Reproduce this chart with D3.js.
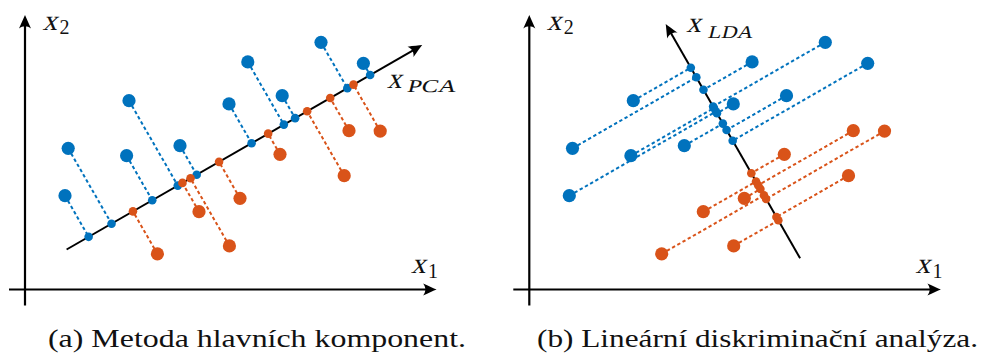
<!DOCTYPE html>
<html>
<head>
<meta charset="utf-8">
<script src="https://cdn.jsdelivr.net/npm/d3@7"></script>
<style>
  html, body { margin: 0; padding: 0; background: #fff; }
  svg { display: block; }
  text { font-family: "Liberation Serif", "DejaVu Serif", serif; fill: #111; }
</style>
</head>
<body>
<svg id="chart" width="983" height="356"></svg>
<script>
// Two classes of 2-D samples (feature space x1, x2)
const blueX1   = [1.0, 1.08, 2.54, 2.6, 3.875, 5.1, 5.57, 6.43, 7.4, 8.46];
const blueX2   = [2.345, 3.53, 3.345, 4.72, 3.595, 4.64, 5.69, 4.845, 6.18, 5.655];
const orangeX1 = [3.31, 4.35, 5.11, 5.375, 6.375, 7.98, 8.1, 8.88];
const orangeX2 = [0.89, 1.945, 1.09, 2.28, 3.38, 2.845, 3.97, 3.96];

// Projection axes: [start, arrow tip] in data units
const pcaAxis = [[1.04, 1.0], [9.93, 6.11]];
const ldaAxis = [[6.77, 0.78], [3.41, 6.64]];

// Extent of the coordinate axes
const axisX1 = [-0.4, 10.29];
const axisX2 = [-0.4, 6.86];

const captions = ["(a) Metoda hlavních komponent.", "(b) Lineární diskriminační analýza."];
const axisNames = ["PCA", "LDA"];

const BLUE = "#0072BD", ORANGE = "#D95319";

const svg = d3.select("#chart");

// Equal units on both axes so that orthogonal projections look orthogonal
const x = d3.scaleLinear().domain([0, 10]).range([0, 400]);
const y = d3.scaleLinear().domain([0, 7]).range([289.5, 9.5]);

const blue = blueX1.map((v, i) => [v, blueX2[i]]);
const orange = orangeX1.map((v, i) => [v, orangeX2[i]]);

// Orthogonal projection of point p onto the line through a,b
function project(p, a, b) {
  const dx = b[0] - a[0], dy = b[1] - a[1];
  const len2 = dx * dx + dy * dy;
  const t = ((p[0] - a[0]) * dx + (p[1] - a[1]) * dy) / len2;
  return [a[0] + t * dx, a[1] + t * dy];
}

const arrowPath = "M0,0 C-3,-1.2 -8,-3.6 -13.5,-6 C-10.5,-2.2 -10.5,2.2 -13.5,6 C-8,3.6 -3,1.2 0,0 Z";

// Line with an arrowhead at its second end (pixel space)
function arrowLine(g, p0, p1, width) {
  const ang = Math.atan2(p1[1] - p0[1], p1[0] - p0[0]);
  const back = 7;
  g.append("line")
    .attr("x1", p0[0]).attr("y1", p0[1])
    .attr("x2", p1[0] - back * Math.cos(ang)).attr("y2", p1[1] - back * Math.sin(ang))
    .attr("stroke", "#000").attr("stroke-width", width);
  g.append("path")
    .attr("d", arrowPath)
    .attr("transform", `translate(${p1[0]},${p1[1]}) rotate(${ang * 180 / Math.PI})`)
    .attr("fill", "#000");
}

// Slanted serif text for math symbols
function slanted(g, px, py, size, str, len) {
  const t = g.append("g").attr("transform", `translate(${px},${py}) skewX(-14)`)
    .append("text").attr("x", 0).attr("y", 0)
    .style("font-size", size + "px").text(str);
  if (len) t.attr("textLength", len).attr("lengthAdjust", "spacingAndGlyphs");
  return t;
}

function mathLabel(g, px, py, sub, subItalic, subDx, subDy, subLen) {
  slanted(g, px, py, 29, "x");
  if (subItalic) {
    slanted(g, px + subDx, py + subDy, 18, sub, subLen);
  } else {
    g.append("text").attr("x", px + subDx).attr("y", py + subDy)
      .style("font-size", "20px").text(sub);
  }
}

function panel(offsetX, axis, caption, capLeft, capWidth) {
  const g = svg.append("g").attr("transform", `translate(${offsetX},0)`);
  const px = d => [x(d[0]), y(d[1])];

  // coordinate axes
  arrowLine(g, px([axisX1[0], 0]), px([axisX1[1], 0]), 2.2);
  arrowLine(g, px([0, axisX2[0]]), px([0, axisX2[1]]), 2.2);

  // projection axis
  arrowLine(g, px(axis[0]), px(axis[1]), 2);

  const classes = [[blue, BLUE], [orange, ORANGE]];
  const layers = classes.map(([pts, col]) => ({
    col, pts, proj: pts.map(p => project(p, axis[0], axis[1]))
  }));

  // dashed projection lines
  layers.forEach(L => {
    g.append("g").selectAll("line").data(L.pts).join("line")
      .attr("x1", d => x(d[0])).attr("y1", d => y(d[1]))
      .attr("x2", (d, i) => x(L.proj[i][0])).attr("y2", (d, i) => y(L.proj[i][1]))
      .attr("stroke", L.col).attr("stroke-width", 2)
      .attr("stroke-dasharray", "3.4,2.6");
  });
  // samples
  layers.forEach(L => {
    g.append("g").selectAll("circle").data(L.pts).join("circle")
      .attr("cx", d => x(d[0])).attr("cy", d => y(d[1]))
      .attr("r", 6.6).attr("fill", L.col);
  });
  // projected samples
  layers.forEach(L => {
    g.append("g").selectAll("circle").data(L.proj).join("circle")
      .attr("cx", d => x(d[0])).attr("cy", d => y(d[1]))
      .attr("r", 4.3).attr("fill", L.col);
  });

  // axis labels
  mathLabel(g, 17.5, 30, "2", false, 17, 3.5);
  mathLabel(g, x(axisX1[1]) - 25.5, 273, "1", false, 17, 4.5);

  // caption
  svg.append("text")
    .attr("x", capLeft).attr("y", 346.5)
    .style("font-size", "26px")
    .attr("textLength", capWidth).attr("lengthAdjust", "spacingAndGlyphs")
    .text(caption);
  return g;
}

const gA = panel(25, pcaAxis, captions[0], 48, 418);
mathLabel(gA, 362, 88, axisNames[0], true, 19.5, 3.7, 49);

const gB = panel(529.3, ldaAxis, captions[1], 537, 441);
mathLabel(gB, 157, 32, axisNames[1], true, 21, 6, 45);
</script>
</body>
</html>
